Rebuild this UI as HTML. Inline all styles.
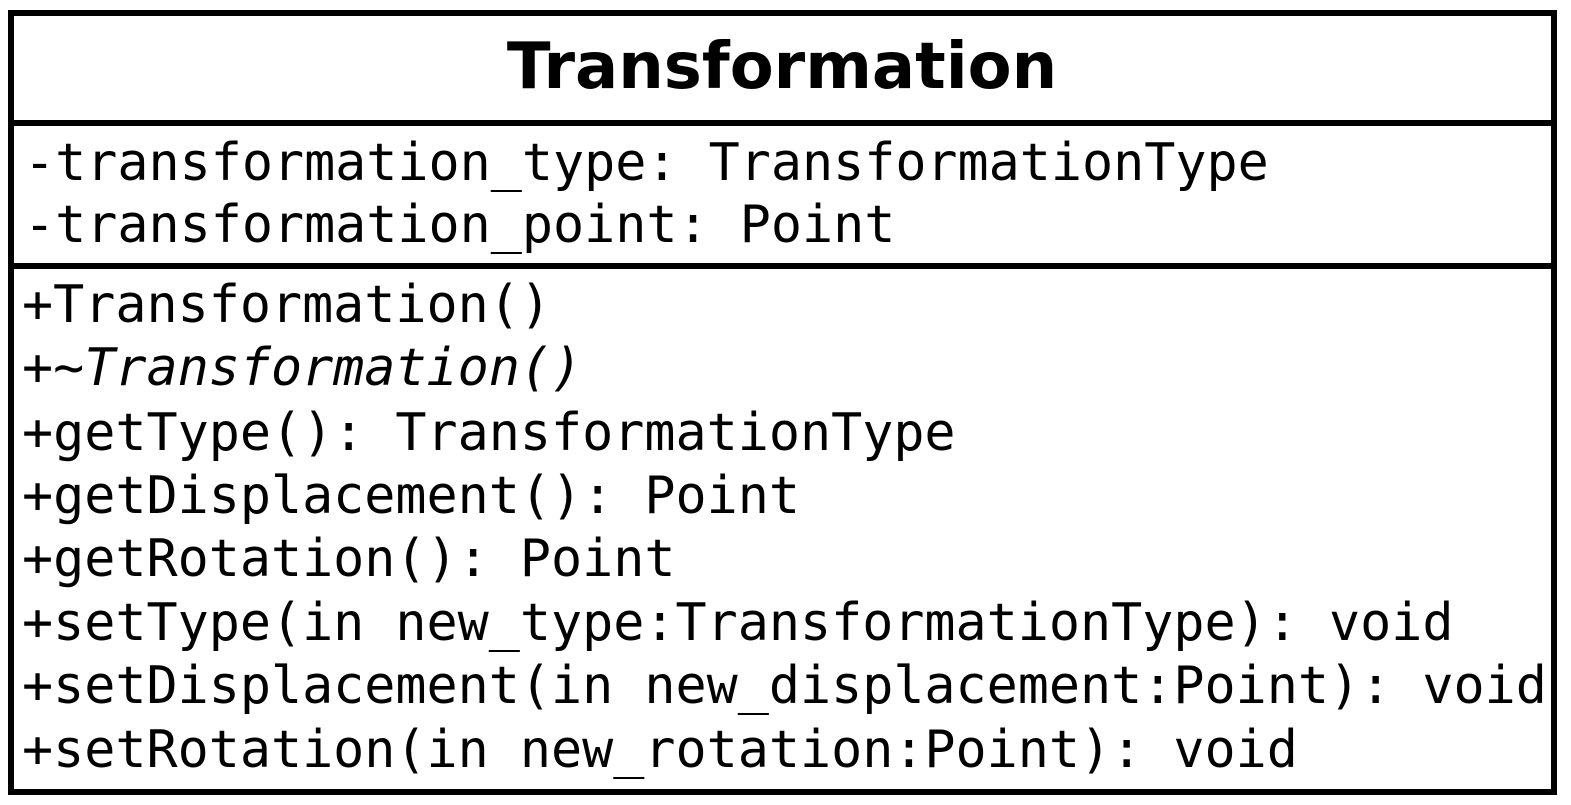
<!DOCTYPE html>
<html><head><meta charset="utf-8"><style>
html,body{margin:0;padding:0;background:#fff;width:1571px;height:805px;overflow:hidden}
svg text{font-family:"DejaVu Sans Mono","Liberation Mono",monospace;font-size:51.7px;fill:#000}
</style></head><body>
<svg width="1571" height="805" xmlns="http://www.w3.org/2000/svg">
<rect x="11" y="13" width="1543" height="779" fill="#fff" stroke="#000" stroke-width="6"/>
<line x1="8" y1="123" x2="1557" y2="123" stroke="#000" stroke-width="6"/>
<line x1="8" y1="266" x2="1557" y2="266" stroke="#000" stroke-width="6"/>
<text x="782" y="88" text-anchor="middle" style="font-family:'DejaVu Sans','Liberation Sans',sans-serif;font-weight:bold;font-size:64px">Transformation</text>
<text x="24" y="180">-transformation_type: TransformationType</text>
<text x="24" y="242">-transformation_point: Point</text>
<text x="22" y="322">+Transformation()</text>
<text x="22" y="385" font-style="italic">+~Transformation()</text>
<text x="22" y="450">+getType(): TransformationType</text>
<text x="22" y="513">+getDisplacement(): Point</text>
<text x="22" y="576">+getRotation(): Point</text>
<text x="22" y="640">+setType(in new_type:TransformationType): void</text>
<text x="22" y="703">+setDisplacement(in new_displacement:Point): void</text>
<text x="22" y="767">+setRotation(in new_rotation:Point): void</text>
</svg>
</body></html>
